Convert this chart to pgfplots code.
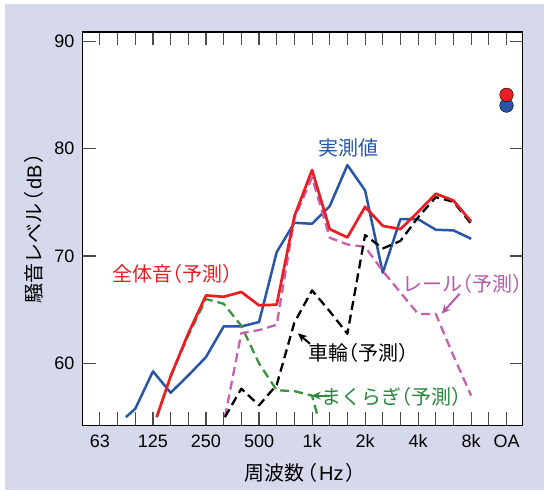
\documentclass[border=0pt]{standalone}
\usepackage{fontspec}
\setmainfont{Liberation Sans}
\newfontfamily\jp{Noto Sans CJK JP}
\newfontfamily\jpp[RawFeature=+halt]{Noto Sans CJK JP}
\usepackage{pgfplots}
\pgfplotsset{compat=1.18}
\usetikzlibrary{arrows.meta}
\definecolor{bg}{RGB}{214,216,236}
\definecolor{cblue}{RGB}{40,85,165}
\definecolor{cred}{RGB}{232,30,36}
\definecolor{cpink}{RGB}{200,95,175}
\definecolor{cpinkt}{RGB}{180,90,170}
\definecolor{cgreen}{RGB}{60,145,60}
\definecolor{cgreent}{RGB}{40,135,60}
\newcommand{\lp}{{\jpp （}}
\newcommand{\rp}{{\jpp ）}}
\newcommand{\jfont}{\fontsize{20bp}{24bp}\selectfont}

\begin{document}
\begin{tikzpicture}
\path[use as bounding box, fill=white] (0,0) rectangle (544bp,492bp);
\fill[bg] (5bp,2bp) rectangle (544bp,488bp);
\begin{axis}[
  at={(82.6bp,66.6bp)}, anchor=south west,
  scale only axis, width=440bp, height=393.3bp,
  xmin=-0.98, xmax=23.91, ymin=54.23, ymax=90.84,
  axis background/.style={fill=white},
  axis line style={black, line width=1.4bp},
  xtick={0,...,23},
  xticklabels={63,,,125,,,250,,,500,,,1k,,,2k,,,4k,,,8k,,OA},
  ytick={60,70,80,90},
  tick align=inside, xtick pos=both, ytick pos=both,
  major tick length=13bp,
  tick style={gray!60!black, line width=1.1bp},
  ticklabel style={font=\fontsize{18bp}{20bp}\selectfont},
  xticklabel style={anchor=base, yshift=-22.2bp},
  yticklabel style={anchor=east, inner sep=0pt, xshift=-8bp},
  /pgf/number format/assume math mode=true,
  xlabel={{\jp 周波数}\hspace{0.15em}\lp\hspace{0.1em}Hz\hspace{0.1em}\rp},
  ylabel={{\jp 騒音レベル}\hspace{0.1em}\lp\hspace{0.1em}dB\hspace{0.1em}\rp},
  xlabel style={at={(axis description cs:0.494,-0.1195)}, anchor=center, font=\jfont},
  ylabel style={at={(axis description cs:-0.111,0.5)}, anchor=center, font=\jfont},
  every axis plot/.append style={line join=round},
]
% 実測値
\addplot[cblue, line width=2.5bp] coordinates {
(1.47,55.0) (2,55.78) (3,59.26) (4,57.27) (5,58.88) (6,60.59) (7,63.44) (8,63.44)
(9,63.85) (10,70.36) (11,73.09) (12,73.0) (13,74.64) (14,78.46) (15,76.10) (16,68.44)
(17,73.43) (18,73.43) (19,72.44) (20,72.38) (21,71.60)};
% まくらぎ
\addplot[cgreen, line width=2.3bp, dash pattern=on 9bp off 5bp] coordinates {
(3.21,55.0) (4,58.8) (5,62.6) (6,66.0) (7,65.55) (8,63.5) (9,60.0) (10,57.5) (11,57.42) (12,57.0) (12.33,55.0)};
% レール
\addplot[cpink, line width=2.3bp, dash pattern=on 9bp off 5bp] coordinates {
(7.07,55.0) (8,62.82) (9,63.1) (10,63.6) (11,73.5) (12,77.3) (13,71.7) (14,71.07)
(15,70.85) (16,68.6) (17,66.6) (18,64.6) (19,64.6) (20,60.7) (21,57.0)};
% 車輪
\addplot[black, line width=2.3bp, dash pattern=on 9bp off 5bp] coordinates {
(7.07,55.0) (8,57.65) (9,56.1) (10,58.0) (11,63.8) (12,66.8) (13,64.85) (14,62.76)
(15,71.95) (16,70.7) (17,71.4) (18,73.6) (19,75.47) (20,75.05) (21,73.0)};
% 全体音
\addplot[cred, line width=2.7bp] coordinates {
(3.21,55.0) (4,58.8) (5,62.8) (6,66.33) (7,66.2) (8,66.65) (9,65.4) (10,65.47)
(11,73.7) (12,78.0) (13,72.5) (14,71.73) (15,74.58) (16,72.8) (17,72.5) (18,74.1)
(19,75.8) (20,75.16) (21,73.2)};
% OA
\addplot[only marks, mark=*, mark size=6.8bp, mark options={draw=none, fill=cblue}] coordinates {(23,84.0)};
\addplot[only marks, mark=*, mark size=6.8bp, mark options={draw=none, fill=cred}] coordinates {(23,85.0)};
% labels
\node[font=\jfont, text=cblue] at (axis cs:14.07,80.03) {\jp 実測値};
\node[font=\jfont, text=cred] at (axis cs:4.11,68.34) {\jp 全体音\lp 予測\rp};
\node[font=\jfont, text=cpinkt] at (axis cs:20.5,67.41) {\jp レール\lp 予測\rp};
\node[font=\jfont, text=black] at (axis cs:14.6,61.0) {\jp 車輪\lp 予測\rp};
\node[font=\jfont, text=cgreent] at (axis cs:16.52,56.9) {\jp まくらぎ\lp 予測\rp};
\draw[cpinkt, line width=2bp, -{Stealth[length=9bp,width=8bp]}] (axis cs:20.35,66.49) -- (axis cs:19.33,64.62);
\draw[black, line width=2bp, -{Stealth[length=9bp,width=8bp]}] (axis cs:11.88,61.83) -- (axis cs:11.2,62.8);
\draw[cgreent, line width=2bp, -{Stealth[length=9bp,width=8bp]}] (axis cs:13.0,57.0) -- (axis cs:11.98,57.0);
\end{axis}
\end{tikzpicture}
\end{document}
